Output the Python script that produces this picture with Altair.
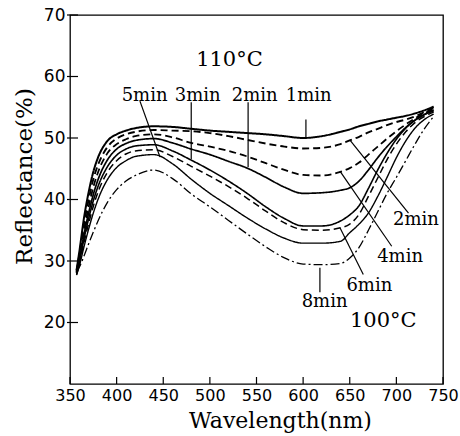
import altair as alt
import pandas as pd

# ---- data ----
wavelength = [357, 360, 365, 370, 375, 380, 390, 400, 410, 420, 440, 460, 480, 500, 520,
              540, 560, 580, 600, 620, 640, 650, 660, 670, 680, 690, 700, 710, 720, 730, 740]

r110_1min = [28.5, 31.5, 37.0, 41.2, 44.5, 46.8, 49.5, 50.6, 51.2, 51.6, 51.9, 51.8, 51.5, 51.2, 51.0,
             50.8, 50.6, 50.3, 50.0, 50.3, 51.0, 51.4, 51.9, 52.3, 52.7, 53.0, 53.3, 53.6, 54.0, 54.5, 55.1]
r100_2min = [28.3, 31.0, 36.0, 40.0, 43.3, 45.6, 48.5, 49.9, 50.6, 51.0, 51.3, 51.2, 51.1, 50.8, 50.3,
             49.7, 49.1, 48.6, 48.3, 48.4, 49.0, 49.6, 50.2, 50.9, 51.5, 52.1, 52.6, 53.0, 53.5, 54.2, 55.0]
r100_4min = [28.2, 30.5, 35.0, 38.8, 42.0, 44.4, 47.5, 49.0, 49.8, 50.3, 50.6, 50.1, 49.2, 48.6, 47.9,
             47.0, 45.9, 44.8, 44.0, 43.9, 44.5, 45.1, 46.0, 47.3, 48.6, 49.9, 51.1, 52.2, 53.2, 54.0, 54.8]
r110_2min = [28.0, 30.2, 34.3, 37.8, 40.8, 43.2, 46.4, 48.2, 49.1, 49.6, 49.9, 49.2, 48.2, 47.3, 46.2,
             45.1, 43.6, 42.0, 41.0, 41.1, 41.5, 41.9, 43.0, 44.8, 46.8, 48.6, 50.2, 51.7, 52.9, 53.8, 54.6]
r110_3min = [28.0, 29.8, 33.6, 36.9, 39.8, 42.1, 45.3, 47.2, 48.2, 48.7, 48.9, 47.9, 46.4, 44.8, 43.0,
             41.0, 38.8, 36.9, 35.7, 35.7, 36.5, 37.5, 39.0, 41.8, 44.8, 47.5, 49.8, 51.6, 52.9, 53.8, 54.4]
r100_6min = [27.8, 29.5, 33.0, 36.1, 38.9, 41.2, 44.4, 46.3, 47.4, 47.9, 48.1, 47.0, 45.4, 43.8, 42.1,
             40.2, 38.1, 36.2, 35.1, 35.0, 35.4, 36.0, 37.6, 40.5, 43.5, 46.5, 49.0, 51.0, 52.5, 53.5, 54.2]
r110_5min = [27.7, 29.2, 32.3, 35.2, 37.8, 40.0, 43.2, 45.2, 46.3, 47.0, 47.3, 45.8, 43.3, 41.0, 39.0,
             37.0, 35.2, 33.7, 32.9, 32.9, 33.2, 34.6, 36.0, 37.8, 40.5, 43.6, 46.8, 49.5, 51.6, 53.0, 53.9]
r100_8min = [28.3, 29.0, 30.8, 32.8, 34.7, 36.5, 39.5, 41.6, 43.0, 43.9, 44.8, 43.4, 40.9, 38.8, 36.6,
             34.4, 32.3, 30.5, 29.5, 29.4, 29.6, 30.5, 32.2, 35.0, 38.0, 41.0, 43.6, 46.3, 49.0, 51.5, 53.5]

series_names = ["110C 1min", "100C 2min", "100C 4min", "110C 2min",
                "110C 3min", "100C 6min", "110C 5min", "100C 8min"]
series_values = [r110_1min, r100_2min, r100_4min, r110_2min,
                 r110_3min, r100_6min, r110_5min, r100_8min]
series_dash = [[1, 0], [7, 4], [7, 4], [1, 0], [1, 0], [7, 4], [1, 0], [9, 3, 2, 3]]
series_width = [2.0, 1.3, 1.3, 1.4, 1.4, 1.3, 1.4, 1.2]

# annotation labels
label_text = ["5min", "3min", "2min", "1min", "2min", "4min", "6min", "8min"]
label_wl = [430, 487, 548, 606, 721, 704, 671, 623]
label_r = [56.8, 56.8, 56.8, 56.8, 36.7, 30.7, 26.0, 23.3]

temp_text = ["110°C", "100°C"]
temp_wl = [521, 686]
temp_r = [62.7, 20.3]

# pointer segments
ptr_wl1 = [425, 480, 541, 603, 650, 639.5, 639.5, 618]
ptr_r1 = [56.0, 55.8, 55.8, 53.0, 49.7, 44.6, 35.4, 28.9]
ptr_wl2 = [446.5, 480, 541, 603, 713, 695, 664.5, 618]
ptr_r2 = [46.9, 46.5, 45.3, 50.1, 37.8, 32.4, 27.8, 24.9]

x_ticks = [350, 400, 450, 500, 550, 600, 650, 700, 750]
y_ticks = [20, 30, 40, 50, 60, 70]

# ---- tables ----
rows = []
for name, vals in zip(series_names, series_values):
    for w, v in zip(wavelength, vals):
        rows.append({"wl": w, "v": v, "series": name})
curves = pd.DataFrame(rows)
labels = pd.DataFrame({"wl": label_wl, "v": label_r, "t": label_text})
temps = pd.DataFrame({"wl": temp_wl, "v": temp_r, "t": temp_text})
ptrs = pd.DataFrame({"wl": ptr_wl1, "v": ptr_r1, "wl2": ptr_wl2, "v2": ptr_r2})
xt = pd.DataFrame({"wl": x_ticks})
yt = pd.DataFrame({"v": y_ticks})

W, H = 373, 369
xscale = alt.Scale(domain=[350, 750], nice=False, zero=False)
yscale = alt.Scale(domain=[10, 70], nice=False, zero=False)

x_axis = alt.Axis(values=x_ticks, ticks=False, tickSize=0, domain=False, grid=False,
                  labelFont="DejaVu Sans", labelFontSize=16, labelColor="black",
                  labelPadding=3, labelFlush=False,
                  title="Wavelength(nm)", titleFont="DejaVu Serif", titleFontSize=22,
                  titleFontWeight="normal", titleColor="black",
                  titleX=210, titleY=43, titleBaseline="alphabetic", titleAlign="center")
y_axis = alt.Axis(values=y_ticks, ticks=False, tickSize=0, domain=False, grid=False,
                  labelFont="DejaVu Sans", labelFontSize=17, labelColor="black",
                  labelPadding=5, labelFlush=False,
                  title="Reflectance(%)", titleFont="DejaVu Serif", titleFontSize=23,
                  titleFontWeight="normal", titleColor="black", titleAngle=270,
                  titleX=-39, titleY=161, titleBaseline="alphabetic", titleAlign="center")

X = alt.X("wl:Q", scale=xscale, axis=x_axis)
Y = alt.Y("v:Q", scale=yscale, axis=y_axis)

lines = alt.Chart(curves).mark_line(interpolate="monotone", color="black").encode(
    x=X, y=Y,
    strokeDash=alt.StrokeDash("series:N", scale=alt.Scale(domain=series_names, range=series_dash), legend=None),
    strokeWidth=alt.StrokeWidth("series:N", scale=alt.Scale(domain=series_names, range=series_width), legend=None),
    detail="series:N",
)

pointer = alt.Chart(ptrs).mark_rule(color="black", strokeWidth=1.2).encode(
    x=X, y=Y, x2="wl2:Q", y2="v2:Q")

lab = alt.Chart(labels).mark_text(font="DejaVu Serif", fontSize=18, color="black",
                                   baseline="middle", align="center").encode(x=X, y=Y, text="t:N")
tmp = alt.Chart(temps).mark_text(font="DejaVu Serif", fontSize=21, color="black",
                                 baseline="middle", align="center").encode(x=X, y=Y, text="t:N")

xtick = alt.Chart(xt).mark_rule(color="black", strokeWidth=1.2).encode(
    x=X, y=alt.value(H - 7), y2=alt.value(H))
ytick = alt.Chart(yt).mark_rule(color="black", strokeWidth=1.2).encode(
    y=Y, x=alt.value(-3), x2=alt.value(8))

chart = alt.layer(lines, pointer, lab, tmp, xtick, ytick).properties(
    width=W, height=H,
    autosize=alt.AutoSizeParams(type="none"),
    padding={"left": 70, "top": 15, "right": 17, "bottom": 52},
    background="white",
).configure_view(stroke="black", strokeWidth=1.3)

chart.save("out.html", embed_options={"renderer": "svg", "actions": False})
